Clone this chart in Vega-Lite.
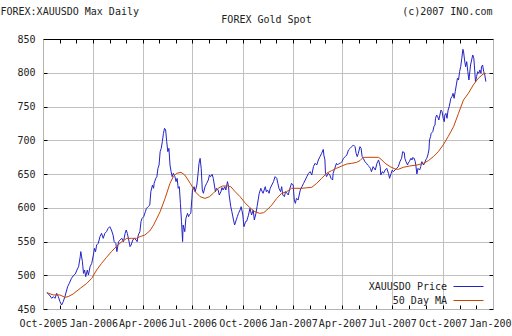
{
"$schema":"https://vega.github.io/schema/vega-lite/v6.json",
"width":450,"height":270,
"autosize":"none",
"padding":{"left":43,"top":39,"right":19,"bottom":27},
"background":"white",
"config":{
 "view":{"stroke":null},
 "axis":{"labelFont":"DejaVu Sans Mono","labelFontSize":10,"labelColor":"#222","titleFont":"DejaVu Sans Mono","titleFontSize":10,"titleFontWeight":"normal","titleColor":"#222","tickColor":"#000","domainColor":"#b4b4b4","gridColor":"#c0c0c0","tickSize":-4}
},
"datasets":{
"price":[
{"d":"2005-10-08","v":474.2},{"d":"2005-10-11","v":472.2},{"d":"2005-10-14","v":469.3},{"d":"2005-10-17","v":465.8},{"d":"2005-10-20","v":468.3},{"d":"2005-10-23","v":465.8},{"d":"2005-10-26","v":473.2},{"d":"2005-10-29","v":468.3},{"d":"2005-11-01","v":460.9},{"d":"2005-11-04","v":455.9},{"d":"2005-11-07","v":460.9},{"d":"2005-11-10","v":468.3},{"d":"2005-11-15","v":483.1},{"d":"2005-11-18","v":488.0},{"d":"2005-11-22","v":495.4},{"d":"2005-11-25","v":498.9},{"d":"2005-11-29","v":501.9},{"d":"2005-12-02","v":507.8},{"d":"2005-12-05","v":512.7},{"d":"2005-12-08","v":527.5},{"d":"2005-12-09","v":535.0},{"d":"2005-12-12","v":520.1},{"d":"2005-12-14","v":502.8},{"d":"2005-12-16","v":507.8},{"d":"2005-12-18","v":497.9},{"d":"2005-12-21","v":507.8},{"d":"2005-12-23","v":500.4},{"d":"2005-12-26","v":512.7},{"d":"2005-12-29","v":517.6},
{"d":"2006-01-01","v":530.0},{"d":"2006-01-03","v":539.9},{"d":"2006-01-05","v":535.0},{"d":"2006-01-07","v":544.8},{"d":"2006-01-10","v":547.3},{"d":"2006-01-13","v":557.2},{"d":"2006-01-16","v":562.1},{"d":"2006-01-19","v":554.7},{"d":"2006-01-22","v":562.1},{"d":"2006-01-25","v":564.6},{"d":"2006-01-28","v":569.5},{"d":"2006-01-31","v":572.0},{"d":"2006-02-03","v":567.0},{"d":"2006-02-06","v":559.6},{"d":"2006-02-08","v":549.8},{"d":"2006-02-11","v":547.3},{"d":"2006-02-13","v":535.0},{"d":"2006-02-16","v":549.8},{"d":"2006-02-19","v":552.2},{"d":"2006-02-22","v":554.7},{"d":"2006-02-25","v":549.8},{"d":"2006-02-28","v":562.1},{"d":"2006-03-02","v":567.0},{"d":"2006-03-04","v":562.1},{"d":"2006-03-06","v":554.7},{"d":"2006-03-09","v":542.4},{"d":"2006-03-11","v":544.8},{"d":"2006-03-14","v":552.2},{"d":"2006-03-17","v":554.7},{"d":"2006-03-20","v":552.2},{"d":"2006-03-22","v":549.8},{"d":"2006-03-24","v":559.6},{"d":"2006-03-27","v":564.6},{"d":"2006-03-29","v":579.4},{"d":"2006-03-31","v":584.3},
{"d":"2006-04-03","v":586.8},{"d":"2006-04-06","v":594.2},{"d":"2006-04-08","v":599.1},{"d":"2006-04-11","v":601.6},{"d":"2006-04-14","v":604.0},{"d":"2006-04-16","v":623.8},{"d":"2006-04-19","v":633.7},{"d":"2006-04-21","v":628.8},{"d":"2006-04-22","v":636.2},{"d":"2006-04-25","v":643.6},{"d":"2006-04-27","v":646.0},{"d":"2006-04-29","v":658.4},{"d":"2006-05-01","v":663.3},{"d":"2006-05-03","v":683.1},{"d":"2006-05-05","v":688.0},{"d":"2006-05-07","v":697.9},{"d":"2006-05-09","v":710.2},{"d":"2006-05-11","v":717.7},{"d":"2006-05-13","v":715.2},{"d":"2006-05-15","v":697.9},{"d":"2006-05-17","v":683.1},{"d":"2006-05-19","v":688.0},{"d":"2006-05-21","v":663.3},{"d":"2006-05-23","v":653.5},{"d":"2006-05-25","v":646.0},{"d":"2006-05-27","v":651.0},{"d":"2006-05-30","v":646.0},{"d":"2006-06-01","v":638.7},{"d":"2006-06-03","v":643.6},{"d":"2006-06-05","v":628.8},{"d":"2006-06-07","v":631.2},{"d":"2006-06-09","v":606.5},{"d":"2006-06-11","v":579.4},{"d":"2006-06-13","v":549.8},{"d":"2006-06-14","v":574.4},{"d":"2006-06-17","v":564.6},{"d":"2006-06-19","v":584.3},{"d":"2006-06-22","v":591.7},{"d":"2006-06-24","v":586.8},{"d":"2006-06-25","v":589.3},{"d":"2006-06-28","v":591.7},{"d":"2006-06-30","v":613.9},
{"d":"2006-07-01","v":626.3},{"d":"2006-07-04","v":631.2},{"d":"2006-07-06","v":623.8},{"d":"2006-07-09","v":633.7},{"d":"2006-07-11","v":648.5},{"d":"2006-07-13","v":665.8},{"d":"2006-07-15","v":673.2},{"d":"2006-07-17","v":658.4},{"d":"2006-07-19","v":626.3},{"d":"2006-07-21","v":621.4},{"d":"2006-07-24","v":631.2},{"d":"2006-07-27","v":636.2},{"d":"2006-07-30","v":641.1},{"d":"2006-08-01","v":648.5},{"d":"2006-08-03","v":646.0},{"d":"2006-08-06","v":649.5},{"d":"2006-08-08","v":643.6},{"d":"2006-08-10","v":633.7},{"d":"2006-08-12","v":623.8},{"d":"2006-08-14","v":628.8},{"d":"2006-08-17","v":626.3},{"d":"2006-08-19","v":618.9},{"d":"2006-08-22","v":623.8},{"d":"2006-08-24","v":629.8},{"d":"2006-08-26","v":626.3},{"d":"2006-08-29","v":631.2},{"d":"2006-08-31","v":626.3},{"d":"2006-09-03","v":638.7},{"d":"2006-09-05","v":631.2},{"d":"2006-09-06","v":618.9},{"d":"2006-09-09","v":601.6},{"d":"2006-09-11","v":594.2},{"d":"2006-09-14","v":581.9},{"d":"2006-09-16","v":574.4},{"d":"2006-09-19","v":581.9},{"d":"2006-09-21","v":586.8},{"d":"2006-09-23","v":591.7},{"d":"2006-09-26","v":596.7},{"d":"2006-09-28","v":601.6},
{"d":"2006-10-01","v":589.3},{"d":"2006-10-03","v":571.9},{"d":"2006-10-06","v":579.4},{"d":"2006-10-08","v":580.0},{"d":"2006-10-11","v":588.0},{"d":"2006-10-14","v":599.1},{"d":"2006-10-17","v":589.3},{"d":"2006-10-20","v":596.7},{"d":"2006-10-22","v":581.9},{"d":"2006-10-25","v":591.7},{"d":"2006-10-27","v":601.6},{"d":"2006-10-29","v":611.5},{"d":"2006-10-31","v":621.4},{"d":"2006-11-03","v":628.8},{"d":"2006-11-04","v":626.3},{"d":"2006-11-07","v":621.4},{"d":"2006-11-11","v":631.2},{"d":"2006-11-13","v":623.8},{"d":"2006-11-15","v":626.3},{"d":"2006-11-18","v":621.4},{"d":"2006-11-20","v":628.8},{"d":"2006-11-23","v":633.7},{"d":"2006-11-26","v":638.7},{"d":"2006-11-29","v":646.1},{"d":"2006-12-02","v":643.6},{"d":"2006-12-04","v":636.2},{"d":"2006-12-06","v":628.8},{"d":"2006-12-09","v":623.8},{"d":"2006-12-11","v":631.2},{"d":"2006-12-13","v":618.9},{"d":"2006-12-16","v":616.4},{"d":"2006-12-18","v":623.8},{"d":"2006-12-21","v":621.4},{"d":"2006-12-23","v":618.9},{"d":"2006-12-26","v":628.8},{"d":"2006-12-29","v":636.2},
{"d":"2007-01-01","v":633.7},{"d":"2007-01-03","v":611.5},{"d":"2007-01-05","v":606.5},{"d":"2007-01-07","v":613.9},{"d":"2007-01-10","v":611.5},{"d":"2007-01-14","v":626.3},{"d":"2007-01-17","v":631.2},{"d":"2007-01-20","v":636.2},{"d":"2007-01-23","v":641.1},{"d":"2007-01-26","v":646.1},{"d":"2007-01-29","v":651.0},{"d":"2007-02-01","v":653.5},{"d":"2007-02-04","v":648.5},{"d":"2007-02-07","v":660.9},{"d":"2007-02-10","v":665.8},{"d":"2007-02-13","v":663.3},{"d":"2007-02-16","v":670.8},{"d":"2007-02-19","v":675.7},{"d":"2007-02-22","v":680.6},{"d":"2007-02-25","v":686.5},{"d":"2007-02-26","v":678.2},{"d":"2007-02-28","v":670.8},{"d":"2007-03-01","v":651.0},{"d":"2007-03-03","v":646.1},{"d":"2007-03-06","v":651.0},{"d":"2007-03-09","v":648.5},{"d":"2007-03-11","v":643.6},{"d":"2007-03-14","v":641.1},{"d":"2007-03-15","v":651.0},{"d":"2007-03-18","v":658.4},{"d":"2007-03-21","v":665.8},{"d":"2007-03-23","v":663.3},{"d":"2007-03-26","v":665.8},{"d":"2007-03-28","v":665.8},{"d":"2007-03-31","v":668.3},
{"d":"2007-04-03","v":673.2},{"d":"2007-04-06","v":675.7},{"d":"2007-04-09","v":678.2},{"d":"2007-04-12","v":685.6},{"d":"2007-04-15","v":688.0},{"d":"2007-04-18","v":690.5},{"d":"2007-04-21","v":693.0},{"d":"2007-04-24","v":690.5},{"d":"2007-04-26","v":680.6},{"d":"2007-04-28","v":675.7},{"d":"2007-04-30","v":680.6},{"d":"2007-05-03","v":690.5},{"d":"2007-05-05","v":688.0},{"d":"2007-05-07","v":675.7},{"d":"2007-05-09","v":673.2},{"d":"2007-05-12","v":668.3},{"d":"2007-05-15","v":665.8},{"d":"2007-05-17","v":663.3},{"d":"2007-05-20","v":660.9},{"d":"2007-05-22","v":658.4},{"d":"2007-05-24","v":653.5},{"d":"2007-05-27","v":660.9},{"d":"2007-05-31","v":655.9},{"d":"2007-06-03","v":665.8},{"d":"2007-06-06","v":670.8},{"d":"2007-06-09","v":660.9},{"d":"2007-06-10","v":648.5},{"d":"2007-06-13","v":653.5},{"d":"2007-06-15","v":651.0},{"d":"2007-06-18","v":655.9},{"d":"2007-06-21","v":658.4},{"d":"2007-06-24","v":651.0},{"d":"2007-06-26","v":643.6},{"d":"2007-06-29","v":651.0},
{"d":"2007-07-01","v":655.9},{"d":"2007-07-03","v":653.5},{"d":"2007-07-06","v":655.9},{"d":"2007-07-09","v":658.4},{"d":"2007-07-12","v":660.9},{"d":"2007-07-15","v":668.3},{"d":"2007-07-18","v":673.2},{"d":"2007-07-20","v":683.1},{"d":"2007-07-23","v":681.6},{"d":"2007-07-24","v":673.2},{"d":"2007-07-26","v":668.3},{"d":"2007-07-29","v":663.3},{"d":"2007-07-30","v":665.8},{"d":"2007-08-01","v":668.3},{"d":"2007-08-04","v":673.2},{"d":"2007-08-06","v":670.7},{"d":"2007-08-07","v":674.2},{"d":"2007-08-10","v":673.2},{"d":"2007-08-12","v":668.3},{"d":"2007-08-13","v":663.3},{"d":"2007-08-15","v":650.0},{"d":"2007-08-17","v":658.4},{"d":"2007-08-20","v":655.9},{"d":"2007-08-22","v":660.9},{"d":"2007-08-24","v":668.3},{"d":"2007-08-27","v":663.3},{"d":"2007-08-29","v":665.8},{"d":"2007-08-31","v":670.7},{"d":"2007-09-02","v":673.2},{"d":"2007-09-04","v":678.2},{"d":"2007-09-06","v":685.6},{"d":"2007-09-07","v":700.4},{"d":"2007-09-09","v":705.3},{"d":"2007-09-10","v":710.2},{"d":"2007-09-13","v":712.7},{"d":"2007-09-15","v":720.1},{"d":"2007-09-17","v":722.6},{"d":"2007-09-18","v":732.5},{"d":"2007-09-20","v":737.4},{"d":"2007-09-22","v":734.9},{"d":"2007-09-24","v":730.0},{"d":"2007-09-26","v":737.4},{"d":"2007-09-28","v":744.8},{"d":"2007-09-30","v":742.3},
{"d":"2007-10-02","v":732.5},{"d":"2007-10-04","v":727.5},{"d":"2007-10-05","v":737.4},{"d":"2007-10-07","v":739.9},{"d":"2007-10-09","v":732.5},{"d":"2007-10-11","v":744.8},{"d":"2007-10-13","v":749.8},{"d":"2007-10-16","v":762.1},{"d":"2007-10-18","v":764.6},{"d":"2007-10-20","v":769.5},{"d":"2007-10-22","v":762.1},{"d":"2007-10-24","v":772.0},{"d":"2007-10-26","v":781.9},{"d":"2007-10-28","v":791.7},{"d":"2007-10-30","v":789.3},{"d":"2007-11-01","v":801.6},{"d":"2007-11-03","v":809.0},{"d":"2007-11-05","v":821.4},{"d":"2007-11-07","v":834.7},{"d":"2007-11-08","v":832.7},{"d":"2007-11-10","v":818.9},{"d":"2007-11-12","v":809.0},{"d":"2007-11-14","v":816.4},{"d":"2007-11-16","v":801.6},{"d":"2007-11-18","v":789.3},{"d":"2007-11-19","v":796.7},{"d":"2007-11-21","v":811.5},{"d":"2007-11-23","v":818.9},{"d":"2007-11-25","v":826.3},{"d":"2007-11-27","v":821.4},{"d":"2007-11-29","v":799.1},{"d":"2007-11-30","v":786.8},{"d":"2007-12-02","v":794.2},{"d":"2007-12-04","v":801.6},{"d":"2007-12-06","v":799.1},{"d":"2007-12-08","v":804.1},{"d":"2007-12-10","v":799.1},{"d":"2007-12-11","v":809.0},{"d":"2007-12-13","v":811.5},{"d":"2007-12-15","v":801.6},{"d":"2007-12-17","v":796.7},{"d":"2007-12-19","v":786.8}
],
"ma":[
{"d":"2005-10-08","v":474.2},{"d":"2005-10-20","v":470.8},{"d":"2005-11-01","v":470.8},{"d":"2005-11-10","v":467.3},{"d":"2005-11-16","v":468.3},{"d":"2005-11-25","v":472.2},{"d":"2005-12-08","v":480.6},{"d":"2005-12-20","v":488.0},{"d":"2005-12-29","v":495.4},{"d":"2006-01-07","v":507.8},{"d":"2006-01-16","v":517.6},{"d":"2006-01-25","v":526.5},{"d":"2006-02-03","v":535.0},{"d":"2006-02-13","v":543.3},{"d":"2006-02-22","v":549.8},{"d":"2006-03-03","v":554.7},{"d":"2006-03-12","v":554.7},{"d":"2006-03-21","v":554.7},{"d":"2006-03-27","v":557.2},{"d":"2006-04-05","v":559.6},{"d":"2006-04-14","v":565.6},{"d":"2006-04-21","v":574.4},{"d":"2006-05-03","v":594.2},{"d":"2006-05-12","v":613.9},{"d":"2006-05-21","v":636.2},{"d":"2006-05-27","v":646.0},{"d":"2006-06-02","v":651.0},{"d":"2006-06-10","v":652.5},{"d":"2006-06-17","v":648.5},{"d":"2006-06-27","v":636.2},{"d":"2006-07-06","v":623.8},{"d":"2006-07-15","v":616.4},{"d":"2006-07-24","v":613.9},{"d":"2006-08-01","v":616.4},{"d":"2006-08-08","v":621.4},{"d":"2006-08-17","v":628.8},{"d":"2006-08-25","v":632.2},{"d":"2006-09-03","v":632.2},{"d":"2006-09-09","v":631.2},{"d":"2006-09-17","v":623.8},{"d":"2006-09-26","v":616.4},{"d":"2006-10-05","v":607.3},{"d":"2006-10-14","v":600.0},{"d":"2006-10-23","v":594.2},{"d":"2006-11-01","v":591.7},{"d":"2006-11-08","v":592.7},{"d":"2006-11-14","v":596.7},{"d":"2006-11-23","v":604.1},{"d":"2006-12-02","v":613.9},{"d":"2006-12-11","v":621.4},{"d":"2006-12-20","v":623.8},{"d":"2006-12-29","v":628.8},{"d":"2007-01-17","v":628.8},{"d":"2007-02-04","v":630.3},{"d":"2007-02-13","v":636.2},{"d":"2007-02-22","v":643.6},{"d":"2007-03-03","v":651.0},{"d":"2007-03-12","v":654.9},{"d":"2007-03-21","v":658.4},{"d":"2007-03-31","v":661.9},{"d":"2007-04-09","v":664.8},{"d":"2007-04-18","v":665.8},{"d":"2007-04-27","v":667.3},{"d":"2007-05-03","v":669.8},{"d":"2007-05-09","v":674.7},{"d":"2007-06-06","v":674.7},{"d":"2007-06-12","v":670.8},{"d":"2007-06-18","v":665.8},{"d":"2007-06-27","v":660.9},{"d":"2007-07-06","v":657.5},{"d":"2007-07-12","v":656.9},{"d":"2007-07-21","v":659.9},{"d":"2007-08-02","v":661.9},{"d":"2007-08-15","v":663.3},{"d":"2007-08-27","v":665.8},{"d":"2007-09-05","v":669.8},{"d":"2007-09-14","v":675.7},{"d":"2007-09-23","v":683.1},{"d":"2007-10-02","v":693.0},{"d":"2007-10-11","v":705.3},{"d":"2007-10-21","v":720.1},{"d":"2007-10-30","v":739.9},{"d":"2007-11-08","v":759.6},{"d":"2007-11-17","v":769.5},{"d":"2007-11-26","v":781.9},{"d":"2007-12-05","v":791.7},{"d":"2007-12-14","v":798.1},{"d":"2007-12-19","v":799.1}
]
},
"layer":[
{"data":{"name":"price"},
 "mark":{"type":"line","strokeWidth":1},
 "encoding":{
  "x":{"field":"d","type":"temporal",
   "scale":{"type":"utc","domain":[{"year":2005,"month":10,"date":1,"utc":true},{"year":2008,"month":1,"date":1,"utc":true}]},
   "axis":{"orient":"bottom","title":null,
    "values":[{"year":2005,"month":10,"date":1,"utc":true},{"year":2005,"month":11,"date":1,"utc":true},{"year":2005,"month":12,"date":1,"utc":true},{"year":2006,"month":1,"date":1,"utc":true},{"year":2006,"month":2,"date":1,"utc":true},{"year":2006,"month":3,"date":1,"utc":true},{"year":2006,"month":4,"date":1,"utc":true},{"year":2006,"month":5,"date":1,"utc":true},{"year":2006,"month":6,"date":1,"utc":true},{"year":2006,"month":7,"date":1,"utc":true},{"year":2006,"month":8,"date":1,"utc":true},{"year":2006,"month":9,"date":1,"utc":true},{"year":2006,"month":10,"date":1,"utc":true},{"year":2006,"month":11,"date":1,"utc":true},{"year":2006,"month":12,"date":1,"utc":true},{"year":2007,"month":1,"date":1,"utc":true},{"year":2007,"month":2,"date":1,"utc":true},{"year":2007,"month":3,"date":1,"utc":true},{"year":2007,"month":4,"date":1,"utc":true},{"year":2007,"month":5,"date":1,"utc":true},{"year":2007,"month":6,"date":1,"utc":true},{"year":2007,"month":7,"date":1,"utc":true},{"year":2007,"month":8,"date":1,"utc":true},{"year":2007,"month":9,"date":1,"utc":true},{"year":2007,"month":10,"date":1,"utc":true},{"year":2007,"month":11,"date":1,"utc":true},{"year":2007,"month":12,"date":1,"utc":true},{"year":2008,"month":1,"date":1,"utc":true}],
    "labelExpr":"utcmonth(datum.value) % 3 == 0 ? utcFormat(datum.value, '%b-%Y') : ''",
    "labelOverlap":false,"labelFlush":false,"labelPadding":13,"labelBaseline":"top",
    "grid":true,
    "gridOpacity":{"condition":{"test":"utcmonth(datum.value) % 3 == 0","value":1},"value":0}
   }},
  "y":{"field":"v","type":"quantitative",
   "scale":{"domain":[450,850],"nice":false,"zero":false},
   "axis":{"orient":"left","values":[450,500,550,600,650,700,750,800,850],"grid":true,"labelPadding":12,
    "title":"FOREX:XAUUSDO Max Daily","titleAngle":0,"titleAlign":"left","titleBaseline":"alphabetic","titleX":-43,"titleY":-25}},
  "color":{"datum":"XAUUSDO Price","type":"nominal",
   "scale":{"domain":["XAUUSDO Price","50 Day MA"],"range":["#2323c8","#c84400"]},
   "legend":{"title":null,"orient":"none","legendX":420,"legendY":242,"padding":0,
    "symbolType":"M-3,0H3","symbolSize":100,"symbolStrokeWidth":1,
    "labelAlign":"right","labelOffset":-27,"labelFont":"DejaVu Sans Mono","labelFontSize":10,"labelColor":"#222","rowPadding":3}}
 }},
{"data":{"name":"ma"},
 "mark":{"type":"line","strokeWidth":1},
 "encoding":{
  "x":{"field":"d","type":"temporal",
   "scale":{"type":"utc","domain":[{"year":2005,"month":10,"date":1,"utc":true},{"year":2008,"month":1,"date":1,"utc":true}]},
   "axis":{"orient":"top","labels":false,"grid":false,"domainColor":"#000",
    "values":[{"year":2005,"month":10,"date":1,"utc":true},{"year":2005,"month":11,"date":1,"utc":true},{"year":2005,"month":12,"date":1,"utc":true},{"year":2006,"month":1,"date":1,"utc":true},{"year":2006,"month":2,"date":1,"utc":true},{"year":2006,"month":3,"date":1,"utc":true},{"year":2006,"month":4,"date":1,"utc":true},{"year":2006,"month":5,"date":1,"utc":true},{"year":2006,"month":6,"date":1,"utc":true},{"year":2006,"month":7,"date":1,"utc":true},{"year":2006,"month":8,"date":1,"utc":true},{"year":2006,"month":9,"date":1,"utc":true},{"year":2006,"month":10,"date":1,"utc":true},{"year":2006,"month":11,"date":1,"utc":true},{"year":2006,"month":12,"date":1,"utc":true},{"year":2007,"month":1,"date":1,"utc":true},{"year":2007,"month":2,"date":1,"utc":true},{"year":2007,"month":3,"date":1,"utc":true},{"year":2007,"month":4,"date":1,"utc":true},{"year":2007,"month":5,"date":1,"utc":true},{"year":2007,"month":6,"date":1,"utc":true},{"year":2007,"month":7,"date":1,"utc":true},{"year":2007,"month":8,"date":1,"utc":true},{"year":2007,"month":9,"date":1,"utc":true},{"year":2007,"month":10,"date":1,"utc":true},{"year":2007,"month":11,"date":1,"utc":true},{"year":2007,"month":12,"date":1,"utc":true},{"year":2008,"month":1,"date":1,"utc":true}],
    "title":"FOREX Gold Spot","titleAlign":"center","titleBaseline":"alphabetic","titleX":223,"titleY":-17}},
  "y":{"field":"v","type":"quantitative",
   "scale":{"domain":[450,850],"nice":false,"zero":false},
   "axis":{"orient":"right","values":[450,500,550,600,650,700,750,800,850],"labels":false,"grid":false,
    "title":"(c)2007 INO.com","titleAngle":0,"titleAlign":"right","titleBaseline":"alphabetic","titleX":-1,"titleY":-25}},
  "color":{"datum":"50 Day MA","type":"nominal"}
 }}
],
"resolve":{"scale":{"x":"independent","y":"independent"},"axis":{"x":"independent","y":"independent"}}
}
